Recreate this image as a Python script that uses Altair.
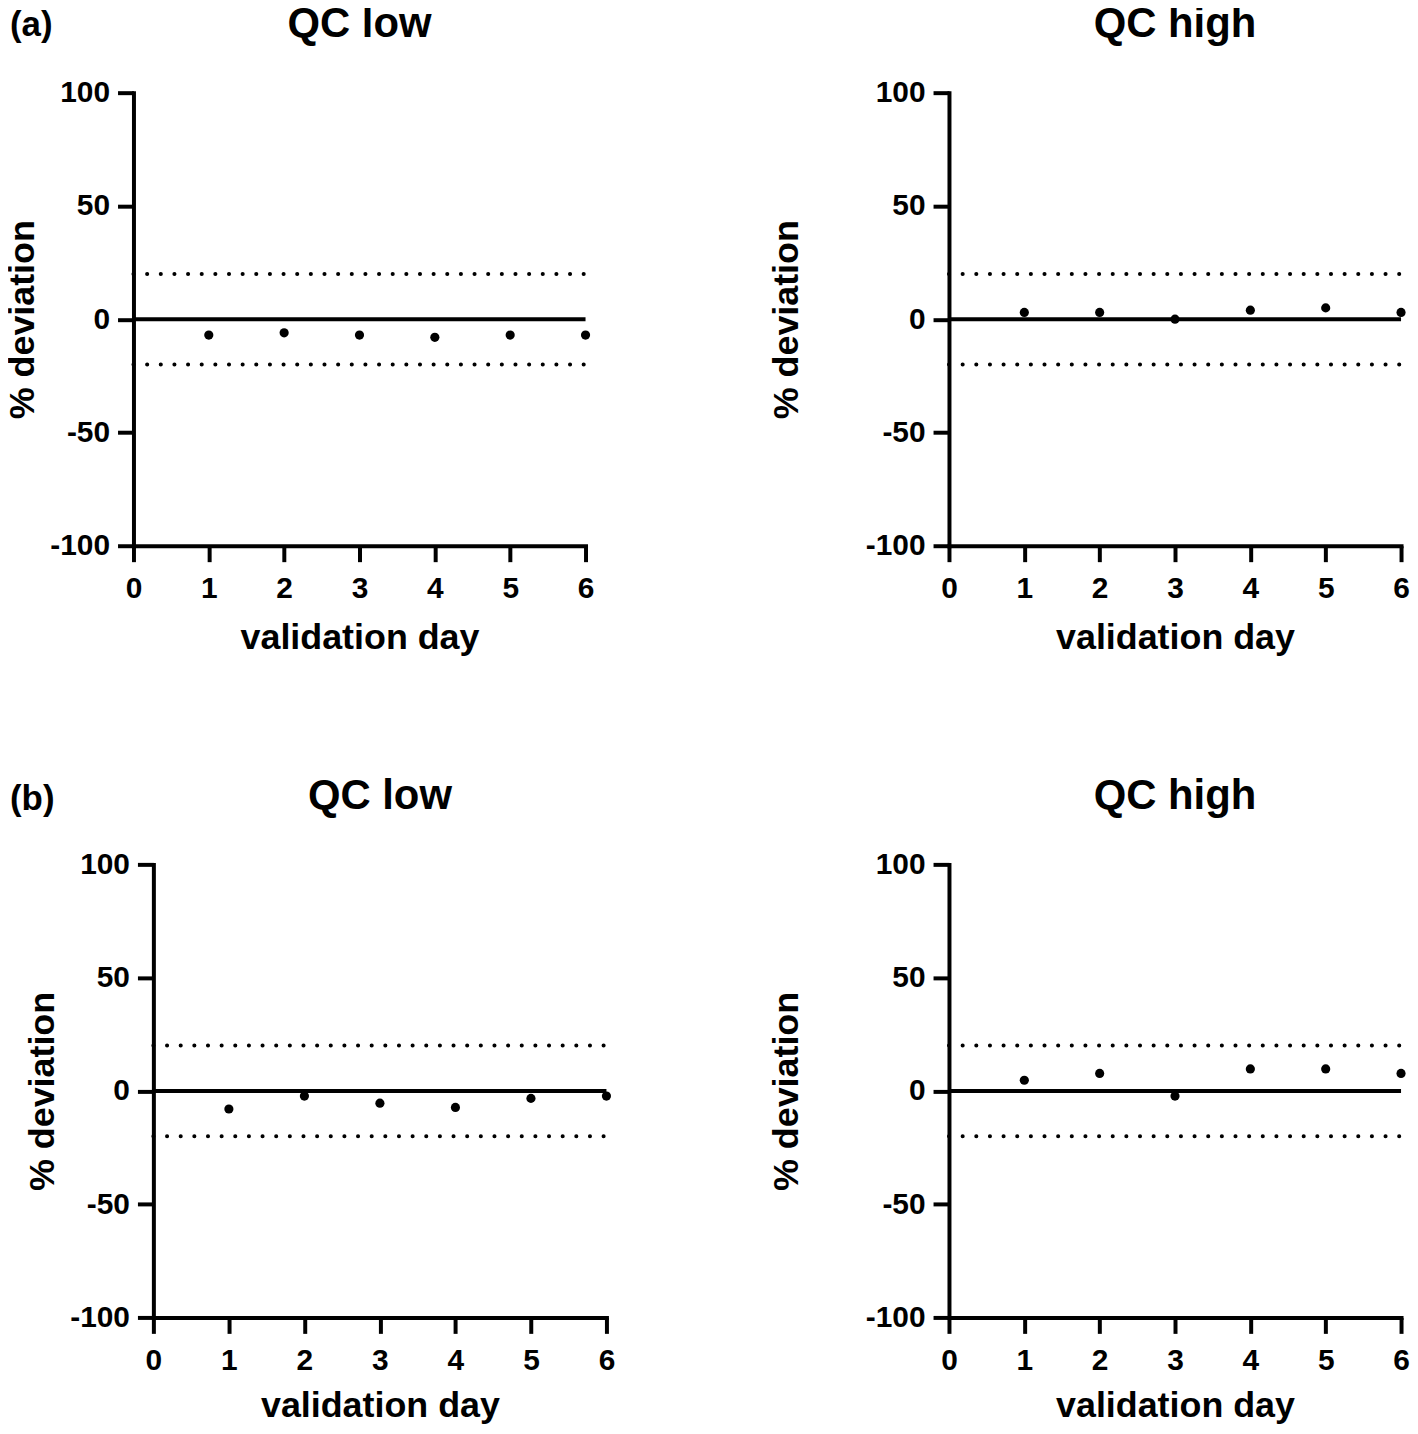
import altair as alt
import pandas as pd

# ---- data ----
days = [1, 2, 3, 4, 5, 6]
a_low = [-7, -6, -7, -8, -7, -7]
a_high = [3, 3, 0, 4, 5, 3]
b_low = [-8, -2.3, -5.4, -7.3, -3.3, -2.3]
b_high = [4.7, 7.7, -2.3, 9.7, 9.7, 7.7]
limit_values = [-20, 20]
zero_value = [0]
x_range = [0, 6]
y_range = [-100, 100]
x_ticks = [0, 1, 2, 3, 4, 5, 6]
y_ticks = [-100, -50, 0, 50, 100]
panel_titles = ["QC low", "QC high"]
panel_tags = ["(a)", "(b)"]

FONT = "Liberation Sans"
W, H = 454, 455


def panel(values, title, title_pad, title_y, xtitle_pad=17, tag=None, tag_y=0, shift=0, width=W):
    pts = pd.DataFrame({"day": days, "dev": values})
    lim = pd.DataFrame({"day": [x_range[0]] * len(limit_values),
                        "day2": [x_range[1]] * len(limit_values),
                        "dev": limit_values})
    zero = pd.DataFrame({"day": [x_range[0]], "day2": [x_range[1]], "dev": zero_value})
    total_w = width + shift

    x = alt.X("day:Q", scale=alt.Scale(domain=x_range, nice=False, zero=False,
                                       range=[shift, total_w]),
              axis=alt.Axis(values=x_ticks, title="validation day", labelExpr="'' + datum.value",
                            titlePadding=xtitle_pad, labelPadding=12))
    y = alt.Y("dev:Q", scale=alt.Scale(domain=y_range, nice=False),
              axis=alt.Axis(values=y_ticks, title="% deviation", labelExpr="'' + datum.value",
                            titlePadding=title_pad, labelPadding=8, offset=-shift))

    dotted = alt.Chart(lim).mark_rule(color="black", strokeWidth=4, strokeCap="round",
                                      strokeDash=[0.1, 13.6]).encode(x=x, x2="day2", y=y)
    solid = alt.Chart(zero).mark_rule(color="black", strokeWidth=4).encode(x=x, x2="day2", y=y)
    dots = alt.Chart(pts).mark_circle(color="black", opacity=1, size=85).encode(x=x, y=y)
    ttl = alt.Chart(pd.DataFrame({"t": [title]})).mark_text(
        font=FONT, fontWeight="bold", fontSize=42, align="center", baseline="alphabetic",
        color="black").encode(text="t:N", x=alt.value(shift + width / 2), y=alt.value(title_y))
    layers = [dotted, solid, dots, ttl]
    if tag is not None:
        tagdf = pd.DataFrame({"t": [tag]})
        layers.append(alt.Chart(tagdf).mark_text(font=FONT, fontWeight="bold", fontSize=35,
                                                 align="left", baseline="alphabetic",
                                                 color="black").encode(
            text="t:N", x=alt.value(-124), y=alt.value(tag_y)))
    return alt.layer(*layers).properties(width=total_w, height=H)


row_a = alt.hconcat(
    panel(a_low, panel_titles[0], 8, -56, tag=panel_tags[0], tag_y=-57),
    panel(a_high, panel_titles[1], 60, -56),
    spacing=365, bounds="flush")
row_b = alt.hconcat(
    panel(b_low, panel_titles[0], 8, -56, xtitle_pad=13, tag=panel_tags[1], tag_y=-55,
          shift=20, width=455),
    panel(b_high, panel_titles[1], 60, -56, xtitle_pad=13),
    spacing=344, bounds="flush")

chart = alt.vconcat(row_a, row_b, spacing=120).configure_view(stroke=None).configure_axis(
    grid=False, domainColor="black", domainWidth=4, tickColor="black", tickWidth=4,
    tickSize=16, labelFont=FONT, labelFontSize=30, labelFontWeight="bold", labelColor="black",
    titleFont=FONT, titleFontSize=36, titleFontWeight="bold", titleColor="black",
    domainCap="square", labelFlush=False, labelOverlap=False
).properties(background="white",
             padding={"top": -8, "bottom": 0, "left": -4, "right": 0})

chart.save("out.html", embed_options={"renderer": "svg", "actions": False})
